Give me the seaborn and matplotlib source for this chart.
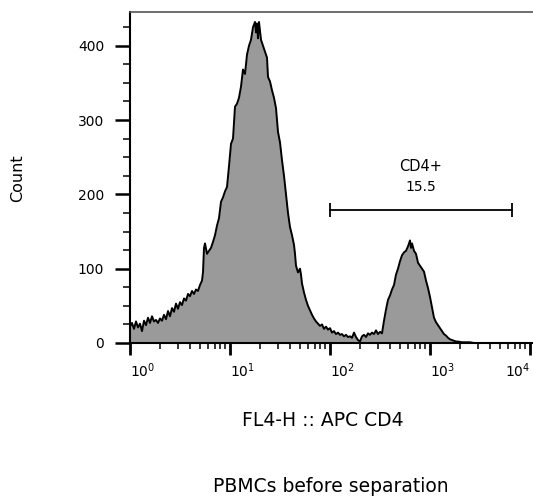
import numpy as np
import pandas as pd
import matplotlib
matplotlib.use('Agg')
import matplotlib.pyplot as plt
import seaborn as sns
from matplotlib.ticker import LogLocator, MultipleLocator, NullFormatter

# FL4-H channel (log10 of intensity) and event counts
fl4_log = [
    0.00, 0.02, 0.04, 0.06, 0.08, 0.10, 0.12, 0.14, 0.16, 0.18,
    0.20, 0.22, 0.24, 0.26, 0.28, 0.30, 0.32, 0.34, 0.36, 0.38,
    0.40, 0.42, 0.44, 0.46, 0.48, 0.50, 0.52, 0.54, 0.56, 0.58,
    0.60, 0.62, 0.64, 0.66, 0.68, 0.70, 0.72, 0.73, 0.74, 0.75,
    0.77, 0.79, 0.81, 0.83, 0.85, 0.87, 0.89, 0.91, 0.93, 0.95,
    0.97, 0.99, 1.01, 1.03, 1.05, 1.07, 1.09, 1.11, 1.13, 1.15,
    1.17, 1.19, 1.21, 1.23, 1.25, 1.26, 1.27, 1.28, 1.29, 1.31,
    1.33, 1.35, 1.37, 1.38, 1.40, 1.42, 1.44, 1.46, 1.48, 1.50,
    1.52, 1.54, 1.56, 1.58, 1.60, 1.62, 1.64, 1.65, 1.66, 1.68,
    1.70, 1.71, 1.72, 1.74, 1.76, 1.78, 1.80, 1.82, 1.84, 1.86,
    1.88, 1.90, 1.92, 1.94, 1.96, 1.98, 2.00, 2.02, 2.04, 2.06,
    2.08, 2.10, 2.12, 2.14, 2.16, 2.18, 2.20, 2.22, 2.24, 2.26,
    2.28, 2.30, 2.32, 2.34, 2.36, 2.38, 2.40, 2.42, 2.44, 2.46,
    2.48, 2.50, 2.52, 2.54, 2.56, 2.58, 2.60, 2.62, 2.64, 2.66,
    2.68, 2.70, 2.72, 2.74, 2.76, 2.78, 2.80, 2.81, 2.82, 2.84,
    2.86, 2.88, 2.90, 2.92, 2.94, 2.96, 2.98, 3.00, 3.02, 3.04,
    3.06, 3.08, 3.10, 3.12, 3.14, 3.16, 3.18, 3.20, 3.22, 3.24,
    3.26, 3.28, 3.32, 3.36, 3.40, 3.44, 4.00,
]
count = [
    22, 27, 19, 29, 21, 26, 16, 30, 24, 34,
    27, 36, 29, 31, 27, 33, 30, 38, 32, 43,
    36, 47, 42, 53, 46, 55, 51, 60, 57, 66,
    63, 70, 66, 72, 70, 78, 84, 95, 128, 134,
    120, 124, 128, 136, 145, 158, 168, 190, 196, 204,
    210, 238, 268, 275, 318, 322, 330, 345, 368, 362,
    388, 400, 408, 425, 432, 418, 430, 410, 432, 408,
    400, 392, 384, 358, 352, 340, 330, 316, 284, 270,
    246, 225, 200, 175, 156, 145, 132, 120, 104, 95,
    100, 92, 80, 68, 58, 50, 44, 38, 33, 29,
    26, 23, 25, 19, 22, 18, 20, 14, 16, 12,
    14, 11, 12, 9, 11, 8, 9, 7, 14, 8,
    4, 2, 9, 11, 8, 13, 11, 14, 12, 17,
    12, 15, 13, 30, 45, 58, 64, 72, 78, 92,
    100, 110, 118, 122, 124, 130, 138, 128, 134, 124,
    120, 108, 104, 100, 96, 84, 74, 62, 48, 34,
    28, 24, 20, 16, 12, 10, 7, 5, 4, 3,
    2, 2, 1, 1, 1, 0, 0,
]

x_ticks = [1, 10, 100, 1000, 10000]
x_tick_labels = [r'$10^{0}$', r'$10^{1}$', r'$10^{2}$', r'$10^{3}$', r'$10^{4}$']
y_ticks = [0, 100, 200, 300, 400]

# CD4+ gate
gate_lo = 100
gate_hi = 6600
gate_y = 179
gate_name = 'CD4+'
gate_pct = '15.5'


def main():
    df = pd.DataFrame({'fl4': np.power(10.0, fl4_log), 'count': count})

    sns.set_style('ticks')
    plt.rcParams['font.family'] = ['DejaVu Sans']
    plt.rcParams['mathtext.default'] = 'regular'
    plt.rcParams['text.color'] = 'black'
    plt.rcParams['axes.labelcolor'] = 'black'
    plt.rcParams['xtick.color'] = 'black'
    plt.rcParams['ytick.color'] = 'black'

    fig = plt.figure(figsize=(5.33, 4.97), dpi=100)
    ax = fig.add_axes([130 / 533, 154 / 497, 405 / 533, 330.7 / 497])

    ax.fill_between(df['fl4'], df['count'], color='#9a9a9a', lw=0)
    sns.lineplot(data=df, x='fl4', y='count', color='black', lw=1.4,
                 estimator=None, ax=ax)

    ax.set_xscale('log')
    ax.set_xlim(1, 10 ** 4.05)
    ax.set_ylim(0, 445)

    ax.set_xticks(x_ticks)
    ax.set_xticklabels(x_tick_labels)
    ax.xaxis.set_minor_locator(LogLocator(base=10, subs=np.arange(2, 10)))
    ax.xaxis.set_minor_formatter(NullFormatter())
    ax.set_yticks(y_ticks)
    ax.yaxis.set_minor_locator(MultipleLocator(25))

    ax.tick_params(axis='y', which='major', direction='out', length=10.5,
                   width=1.8, labelsize=10, pad=8, colors='black')
    ax.tick_params(axis='y', which='minor', direction='out', length=5,
                   width=1.1, colors='black')
    ax.tick_params(axis='x', which='major', direction='out', length=8.5,
                   width=2, labelsize=10, pad=5, colors='black')
    ax.tick_params(axis='x', which='minor', direction='out', length=4.5,
                   width=1.1, colors='black')
    for i, lbl in enumerate(ax.get_xticklabels()):
        lbl.set_horizontalalignment('left' if i < len(x_ticks) - 1 else 'right')

    for side in ['left', 'bottom']:
        ax.spines[side].set_color('black')
        ax.spines[side].set_linewidth(1.5)
    ax.spines['top'].set_color('#555555')
    ax.spines['top'].set_linewidth(1.2)
    ax.spines['right'].set_visible(False)

    # gate bar with end caps and labels
    ax.plot([gate_lo, gate_hi], [gate_y, gate_y], color='black', lw=1.3,
            marker='|', ms=10, mew=1.3)
    gate_mid = np.sqrt(gate_lo * gate_hi)
    ax.annotate(gate_name, (gate_mid, gate_y), xytext=(0, 31),
                textcoords='offset points', ha='center', va='center', fontsize=10.5)
    ax.annotate(gate_pct, (gate_mid, gate_y), xytext=(0, 16.5),
                textcoords='offset points', ha='center', va='center', fontsize=10)

    ax.set_xlabel('FL4-H :: APC CD4', fontsize=13.5, va='center')
    ax.xaxis.set_label_coords((323 - 130) / 405, (343 - 421) / 330.7)
    ax.set_ylabel('Count', fontsize=11.5, va='center')
    ax.yaxis.set_label_coords((18 - 130) / 405, (343 - 178) / 330.7)

    fig.text(331 / 533, 1 - 487 / 497, 'PBMCs before separation',
             ha='center', va='center', fontsize=13.5)

    fig.savefig('out.png', dpi=100)


if __name__ == '__main__':
    main()
